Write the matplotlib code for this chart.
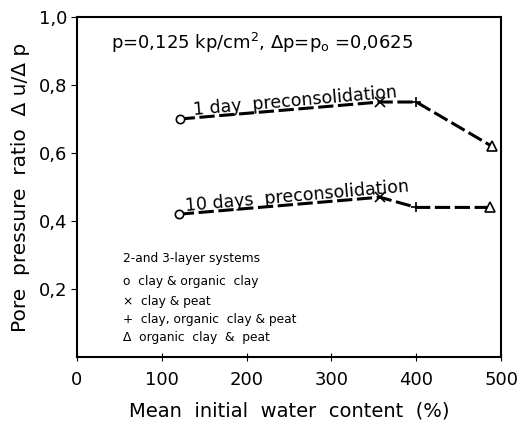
import matplotlib
matplotlib.use("Agg")
import matplotlib.pyplot as plt
from matplotlib.ticker import FuncFormatter

plt.rcParams['font.family'] = ['DejaVu Sans']

# data
water_1day = [121, 357, 400, 489]
ratio_1day = [0.70, 0.75, 0.75, 0.62]
water_10day = [120, 357, 400, 487]
ratio_10day = [0.42, 0.47, 0.44, 0.44]
markers = ['o', 'x', '+', '^']
legend_lines = ["2-and 3-layer systems",
                "o  clay & organic  clay",
                "×  clay & peat",
                "+  clay, organic  clay & peat",
                "Δ  organic  clay  &  peat"]
legend_y = [0.291, 0.221, 0.162, 0.109, 0.056]
xticks = [0, 100, 200, 300, 400, 500]
yticks = [0.2, 0.4, 0.6, 0.8, 1.0]

fig = plt.figure(figsize=(5.22, 4.34), dpi=100)
ax = fig.add_axes([0.1475, 0.1774, 0.8125, 0.7834])

for xs, ys in [(water_1day, ratio_1day), (water_10day, ratio_10day)]:
    ax.plot(xs, ys, color='black', lw=2.2, ls=(0, (5, 1.5)))
    for x, y, m in zip(xs, ys, markers):
        ax.plot(x, y, marker=m, ms=7 if m != 'o' else 6, color='black',
                mfc='white', mew=1.2, ls='none')

ax.set_xlim(0, 500)
ax.set_ylim(0, 1.0)
ax.set_xticks(xticks)
ax.set_yticks(yticks)
ax.yaxis.set_major_formatter(FuncFormatter(lambda v, p: f"{v:.1f}".replace('.', ',')))
ax.tick_params(axis='y', direction='out', length=4, labelsize=13, pad=3)
ax.tick_params(axis='x', direction='inout', length=6, labelsize=13, pad=7)
for s in ax.spines.values():
    s.set_linewidth(1.5)

ax.set_xlabel("Mean  initial  water  content  (%)", fontsize=14, labelpad=9)
ax.set_ylabel("Pore  pressure  ratio  Δ u/Δ p", fontsize=14.5, labelpad=6)

ax.text(40, 0.925, r"p=0,125 kp/cm$^2$, $\Delta$p=p$_\mathregular{o}$ =0,0625",
        fontsize=13, va='center')
ax.text(138, 0.712, "1 day  preconsolidation", fontsize=12.5, rotation=5,
        rotation_mode='anchor', ha='left', va='baseline')
ax.text(128, 0.428, "10 days  preconsolidation", fontsize=12.5, rotation=5,
        rotation_mode='anchor', ha='left', va='baseline')

for t, y in zip(legend_lines, legend_y):
    ax.text(54, y, t, fontsize=8.8, va='center')

fig.savefig("out.png", dpi=100)
